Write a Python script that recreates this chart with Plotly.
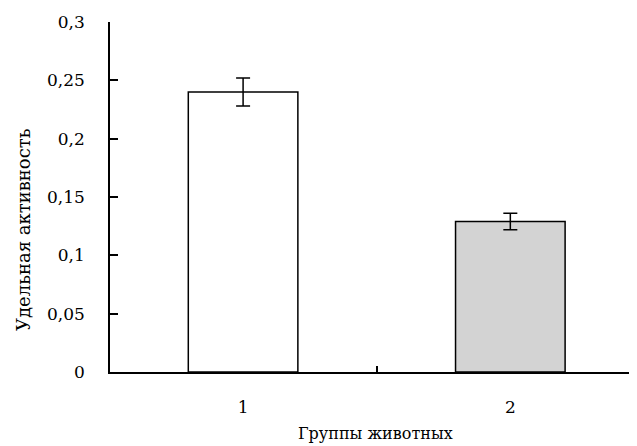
import plotly.graph_objects as go

groups = ["1", "2"]
group_pos = [1, 2]
activity = [0.24, 0.129]
activity_err = [0.012, 0.007]
bar_colors = ["#ffffff", "#d3d3d3"]
y_ticks = [0, 0.05, 0.1, 0.15, 0.2, 0.25, 0.3]
y_ticktext = ["0", "0,05", "0,1", "0,15", "0,2", "0,25", "0,3"]

FONT = "DejaVu Serif"

fig = go.Figure()
fig.add_trace(go.Bar(
    x=group_pos, y=activity, width=0.41,
    marker=dict(color=bar_colors, line=dict(color="black", width=1.5)),
    error_y=dict(type="data", array=activity_err, color="black", thickness=1.5, width=7),
    showlegend=False,
))

fig.update_layout(
    width=629, height=438,
    margin=dict(l=102, r=0, t=14, b=74),
    paper_bgcolor="white", plot_bgcolor="white",
    font=dict(family=FONT, size=17, color="black"),
    xaxis=dict(
        range=[0.502, 2.474], tickvals=group_pos, ticktext=groups,
        ticks="", showline=True, linecolor="black", linewidth=1.5,
        showgrid=False, zeroline=False, ticklabelstandoff=19,
        minor=dict(tickvals=[1.5], ticks="inside", ticklen=6, tickwidth=1.5, tickcolor="black", showgrid=False),
    ),
    yaxis=dict(
        range=[0, 0.3], tickvals=y_ticks, ticktext=y_ticktext,
        ticks="inside", ticklen=8, tickwidth=1.5, tickcolor="black",
        showline=True, linecolor="black", linewidth=1.5,
        showgrid=False, zeroline=False, ticklabelstandoff=20,
    ),
    annotations=[
        dict(text="Удельная активность", xref="paper", yref="paper",
             x=-0.163, y=0.406, textangle=-90, showarrow=False,
             xanchor="center", yanchor="middle", font=dict(size=18)),
        dict(text="Группы животных", xref="paper", yref="paper",
             x=0.503, y=-0.176, showarrow=False,
             xanchor="center", yanchor="middle", font=dict(size=16)),
    ],
)

fig.write_html("out.html")
